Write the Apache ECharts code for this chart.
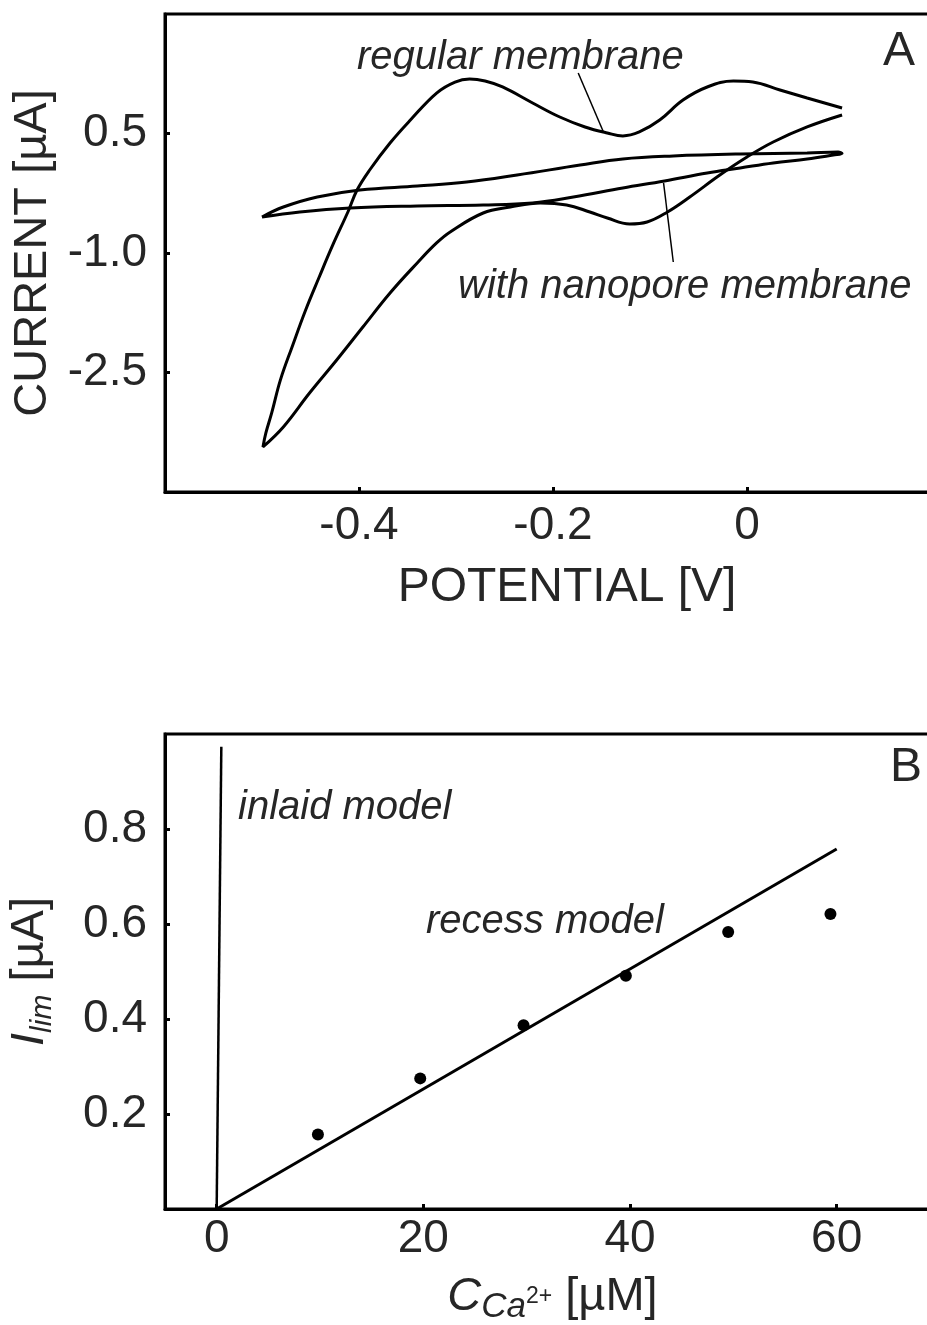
<!DOCTYPE html>
<html>
<head>
<meta charset="utf-8">
<script src="https://cdn.jsdelivr.net/npm/echarts@6/dist/echarts.min.js"></script>
<style>
  html, body { margin: 0; padding: 0; background: #fff; }
  #chart { width: 927px; height: 1325px; }
</style>
</head>
<body>
<div id="chart"></div>
<script>
// ---- Panel A: cyclic voltammograms, potential [V] vs current [µA] ----
// Regular membrane: forward sweep from +0.1 V down to -0.5 V, then back.
const regularMembrane = [
  [0.098, 0.820], [0.062, 0.946], [0.034, 1.046], [0.006, 1.146], [-0.014, 1.159],
  [-0.041, 1.084], [-0.066, 0.920], [-0.090, 0.669], [-0.111, 0.519], [-0.128, 0.469],
  [-0.144, 0.506], [-0.167, 0.582], [-0.193, 0.707], [-0.221, 0.883], [-0.252, 1.084],
  [-0.270, 1.159], [-0.286, 1.184], [-0.301, 1.146], [-0.320, 1.008], [-0.347, 0.669],
  [-0.368, 0.381], [-0.389, 0.042], [-0.402, -0.209], [-0.411, -0.473], [-0.427, -0.899],
  [-0.441, -1.301], [-0.455, -1.715], [-0.469, -2.179], [-0.481, -2.593], [-0.490, -3.008],
  [-0.496, -3.259], [-0.499, -3.434],
  [-0.478, -3.183], [-0.451, -2.757], [-0.423, -2.343], [-0.396, -1.929], [-0.368, -1.502],
  [-0.340, -1.125], [-0.320, -0.874], [-0.306, -0.736], [-0.272, -0.498], [-0.244, -0.423],
  [-0.213, -0.372], [-0.186, -0.398], [-0.162, -0.485], [-0.144, -0.561], [-0.121, -0.636],
  [-0.103, -0.611], [-0.082, -0.485], [-0.059, -0.297], [-0.028, -0.021], [0.000, 0.205],
  [0.027, 0.393], [0.062, 0.582], [0.098, 0.732]
];
// Membrane with nanopores: narrow closed loop.
const nanoporeMembrane = [
  [-0.500, -0.548], [-0.478, -0.423], [-0.443, -0.297], [-0.399, -0.209], [-0.340, -0.159],
  [-0.289, -0.109], [-0.237, -0.021], [-0.172, 0.104], [-0.128, 0.180], [-0.076, 0.218],
  [-0.007, 0.243], [0.062, 0.255], [0.094, 0.268], [0.098, 0.249],
  [0.089, 0.230], [0.062, 0.180], [0.027, 0.130], [-0.007, 0.067], [-0.041, 0.004],
  [-0.085, -0.096], [-0.128, -0.184], [-0.179, -0.297], [-0.221, -0.372], [-0.272, -0.398],
  [-0.340, -0.410], [-0.409, -0.435], [-0.461, -0.485], [-0.500, -0.548]
];
const regularLeader = [[-0.174, 1.259], [-0.148, 0.519]];
const nanoporeLeader = [[-0.086, -0.121], [-0.076, -1.113]];
const potentialTicks = [-0.4, -0.2, 0];
const currentTicks = [-2.5, -1.0, 0.5];

// ---- Panel B: limiting current vs Ca2+ concentration ----
const concentration = [9.8, 19.7, 29.7, 39.6, 49.5, 59.4];
const limitingCurrent = [0.157, 0.275, 0.387, 0.491, 0.583, 0.621];
const recessModel = [[0, 0], [60, 0.758]];
const inlaidModel = [[0, 0], [0.45, 0.973]];
const concentrationTicks = [0, 20, 40, 60];
const ilimTicks = [0.2, 0.4, 0.6, 0.8];

const FONT = "'Liberation Sans', Arial, sans-serif";
const TEXT = '#262626';

function axisBase(ticks, fmt, margin) {
  return {
    type: 'value',
    axisLine: { show: true, onZero: false, lineStyle: { color: '#000', width: 3 } },
    axisTick: { show: true, inside: true, length: 5, customValues: ticks,
                lineStyle: { color: '#000', width: 3 } },
    axisLabel: { customValues: ticks, formatter: fmt, fontSize: 46, margin: margin,
                 color: TEXT, fontFamily: FONT },
    splitLine: { show: false }
  };
}

const chart = echarts.init(document.getElementById('chart'), null, { renderer: 'canvas' });

const curveStyle = { color: '#000', width: 3 };

chart.setOption({
  animation: false,
  backgroundColor: '#fff',
  grid: [
    { left: 165, top: 14, width: 776, height: 478, show: true,
      borderColor: '#000', borderWidth: 3, containLabel: false, outerBoundsMode: 'none' },
    { left: 165, top: 734, width: 775, height: 475, show: true,
      borderColor: '#000', borderWidth: 3, containLabel: false, outerBoundsMode: 'none' }
  ],
  xAxis: [
    Object.assign(axisBase(potentialTicks, v => (v === 0 ? '0' : v.toFixed(1)), 11), {
      gridIndex: 0, min: -0.6, max: 0.2,
      name: 'POTENTIAL [V]', nameLocation: 'middle', nameGap: 72,
      nameTextStyle: { fontSize: 48, color: TEXT, fontFamily: FONT, padding: [0, 0, 0, 28] }
    }),
    Object.assign(axisBase(concentrationTicks, v => String(v), 7), {
      gridIndex: 1, min: -5, max: 70,
      name: '{c|C}{s|Ca}{p|2+}{n| [µM]}', nameLocation: 'middle', nameGap: 60,
      nameTextStyle: {
        fontFamily: FONT, color: TEXT,
        rich: {
          c: { fontSize: 47, fontStyle: 'italic', lineHeight: 56, fontFamily: FONT, color: TEXT },
          s: { fontSize: 35, fontStyle: 'italic', lineHeight: 26, verticalAlign: 'bottom', fontFamily: FONT, color: TEXT },
          p: { fontSize: 23, lineHeight: 56, verticalAlign: 'middle', fontFamily: FONT, color: TEXT },
          n: { fontSize: 47, lineHeight: 56, fontFamily: FONT, color: TEXT }
        }
      }
    })
  ],
  yAxis: [
    Object.assign(axisBase(currentTicks, v => v.toFixed(1), 18), {
      gridIndex: 0, min: -4, max: 2,
      name: 'CURRENT [µA]', nameLocation: 'middle', nameGap: 107,
      nameTextStyle: { fontSize: 47, color: TEXT, fontFamily: FONT }
    }),
    Object.assign(axisBase(ilimTicks, v => v.toFixed(1), 18), {
      gridIndex: 1, min: 0, max: 1,
      name: '{i|I}{s|lim}{n| [µA]}', nameLocation: 'middle', nameGap: 107,
      nameTextStyle: {
        fontFamily: FONT, color: TEXT,
        rich: {
          i: { fontSize: 47, fontStyle: 'italic', lineHeight: 56, fontFamily: FONT, color: TEXT },
          s: { fontSize: 30, fontStyle: 'italic', lineHeight: 28, verticalAlign: 'bottom', fontFamily: FONT, color: TEXT },
          n: { fontSize: 47, lineHeight: 56, fontFamily: FONT, color: TEXT }
        }
      }
    })
  ],
  series: [
    { name: 'regular membrane', type: 'line', xAxisIndex: 0, yAxisIndex: 0,
      data: regularMembrane, smooth: 0.4, showSymbol: false, lineStyle: curveStyle },
    { name: 'with nanopore membrane', type: 'line', xAxisIndex: 0, yAxisIndex: 0,
      data: nanoporeMembrane, smooth: 0.4, showSymbol: false, lineStyle: curveStyle },
    { type: 'line', xAxisIndex: 0, yAxisIndex: 0, data: regularLeader,
      showSymbol: false, lineStyle: { color: '#000', width: 1.5 } },
    { type: 'line', xAxisIndex: 0, yAxisIndex: 0, data: nanoporeLeader,
      showSymbol: false, lineStyle: { color: '#000', width: 1.5 } },
    { name: 'inlaid model', type: 'line', xAxisIndex: 1, yAxisIndex: 1,
      data: inlaidModel, showSymbol: false, lineStyle: { color: '#000', width: 2.5 } },
    { name: 'recess model', type: 'line', xAxisIndex: 1, yAxisIndex: 1,
      data: recessModel, showSymbol: false, lineStyle: { color: '#000', width: 3 } },
    { name: 'measured', type: 'scatter', xAxisIndex: 1, yAxisIndex: 1,
      data: concentration.map((c, i) => [c, limitingCurrent[i]]),
      symbolSize: 12, itemStyle: { color: '#000', opacity: 1 } }
  ],
  graphic: [
    { type: 'text', left: 357, top: 38,
      style: { text: 'regular membrane', font: 'italic 40px ' + FONT, fill: TEXT } },
    { type: 'text', left: 458, top: 267,
      style: { text: 'with nanopore membrane', font: 'italic 40px ' + FONT, fill: TEXT } },
    { type: 'text', left: 883, top: 28,
      style: { text: 'A', font: '48px ' + FONT, fill: TEXT } },
    { type: 'text', left: 238, top: 788,
      style: { text: 'inlaid model', font: 'italic 40px ' + FONT, fill: TEXT } },
    { type: 'text', left: 426, top: 902,
      style: { text: 'recess model', font: 'italic 40px ' + FONT, fill: TEXT } },
    { type: 'text', left: 890, top: 744,
      style: { text: 'B', font: '48px ' + FONT, fill: TEXT } }
  ]
});
</script>
</body>
</html>
